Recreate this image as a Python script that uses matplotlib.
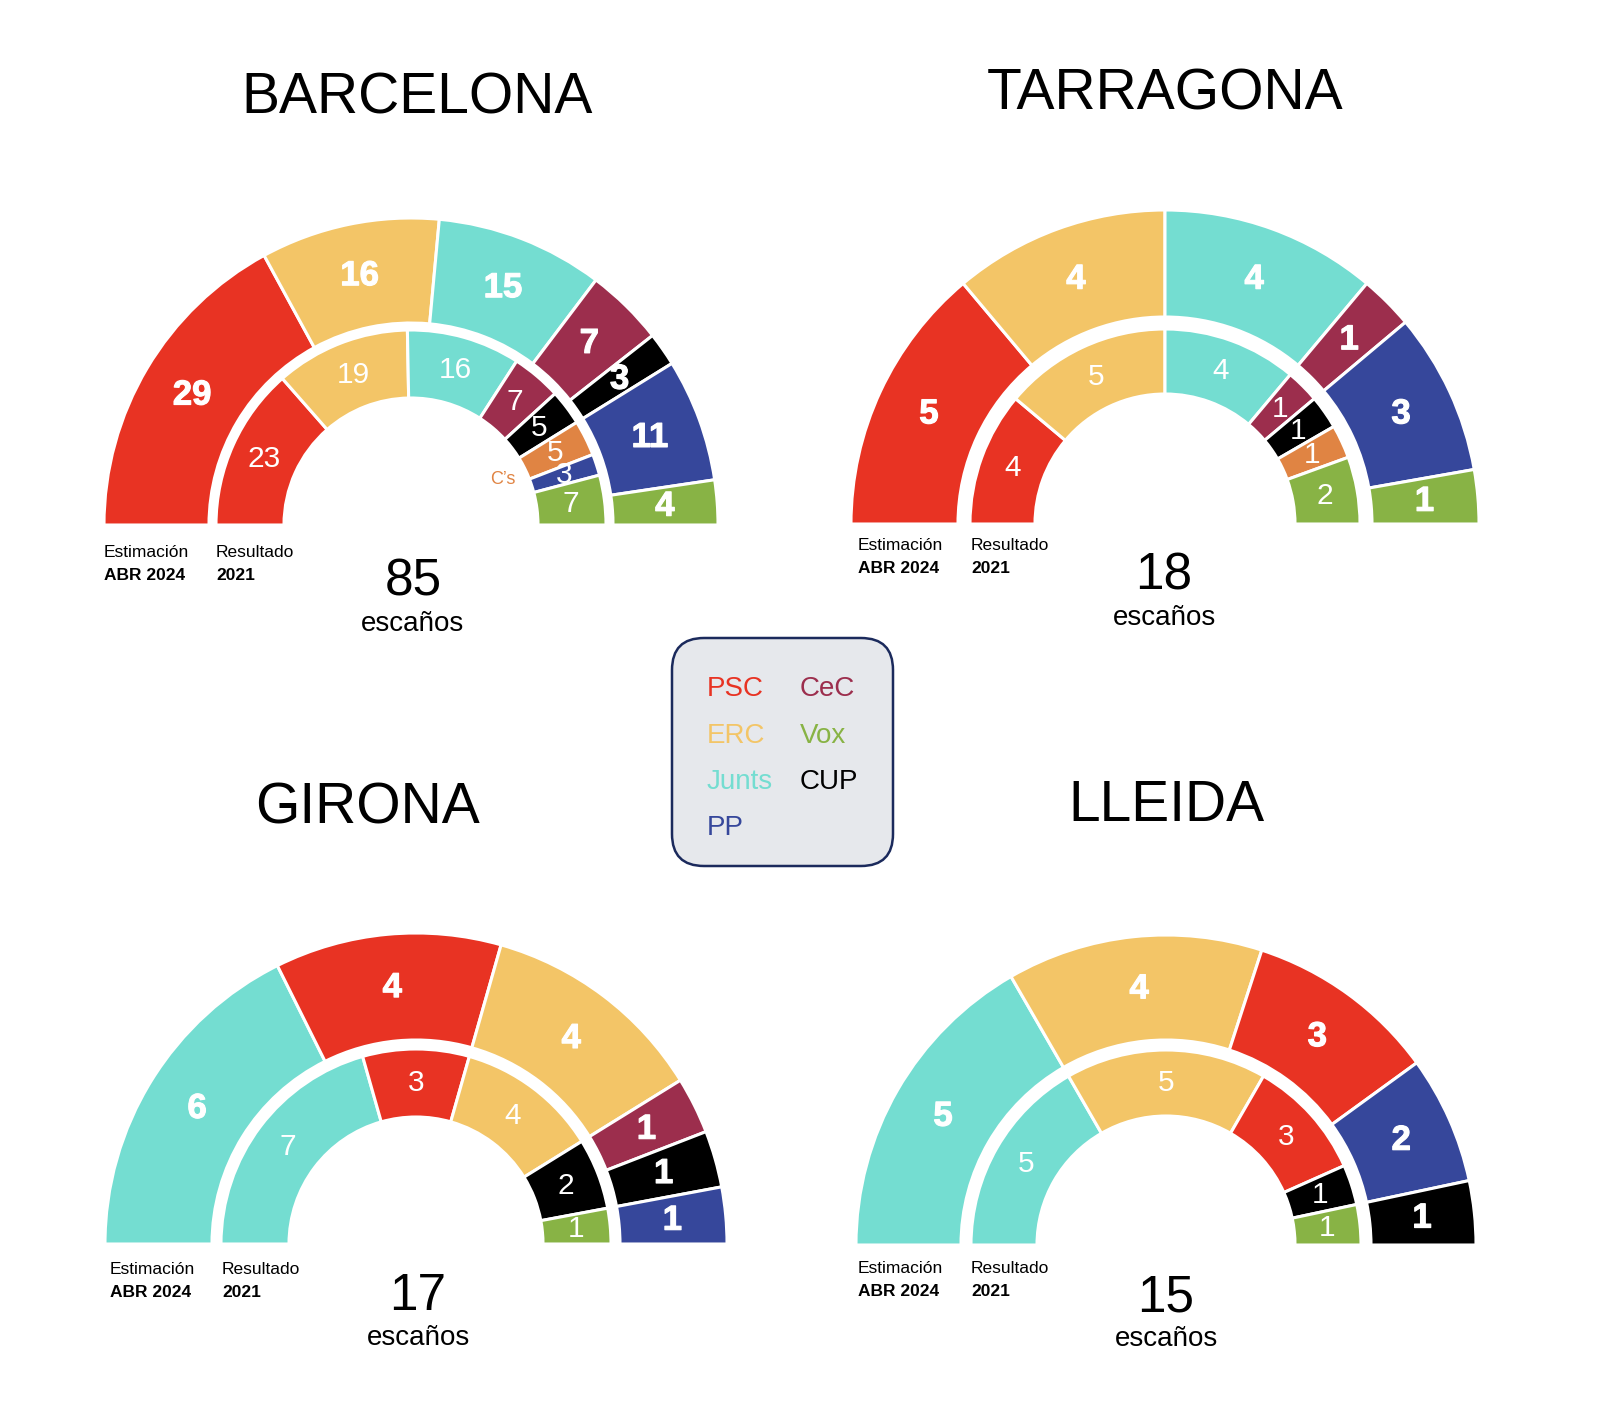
import numpy as np
import matplotlib
matplotlib.use("Agg")
import matplotlib.pyplot as plt
from matplotlib.patches import Wedge, FancyBboxPatch
import matplotlib.patheffects as pe

plt.rcParams['font.family'] = ['Liberation Sans', 'DejaVu Sans']

# party colours
party_colors = {
    'PSC': '#e83323',
    'ERC': '#f3c567',
    'Junts': '#74ddd1',
    'CeC': '#9c2e4d',
    'Vox': '#88b345',
    'CUP': '#000000',
    'PP': '#36479b',
    "C's": '#e08443',
}

# ---- data ----
districts = ['BARCELONA', 'TARRAGONA', 'GIRONA', 'LLEIDA']
total_seats = [85, 18, 17, 15]

bcn_est_parties = ['PSC', 'ERC', 'Junts', 'CeC', 'CUP', 'PP', 'Vox']
bcn_est_seats = [29, 16, 15, 7, 3, 11, 4]
bcn_res_parties = ['PSC', 'ERC', 'Junts', 'CeC', 'CUP', "C's", 'PP', 'Vox']
bcn_res_seats = [23, 19, 16, 7, 5, 5, 3, 7]

tgn_est_parties = ['PSC', 'ERC', 'Junts', 'CeC', 'PP', 'Vox']
tgn_est_seats = [5, 4, 4, 1, 3, 1]
tgn_res_parties = ['PSC', 'ERC', 'Junts', 'CeC', 'CUP', "C's", 'Vox']
tgn_res_seats = [4, 5, 4, 1, 1, 1, 2]

gir_est_parties = ['Junts', 'PSC', 'ERC', 'CeC', 'CUP', 'PP']
gir_est_seats = [6, 4, 4, 1, 1, 1]
gir_res_parties = ['Junts', 'PSC', 'ERC', 'CUP', 'Vox']
gir_res_seats = [7, 3, 4, 2, 1]

lle_est_parties = ['Junts', 'ERC', 'PSC', 'PP', 'CUP']
lle_est_seats = [5, 4, 3, 2, 1]
lle_res_parties = ['Junts', 'ERC', 'PSC', 'CUP', 'Vox']
lle_res_seats = [5, 5, 3, 1, 1]

legend_col1 = ['PSC', 'ERC', 'Junts', 'PP']
legend_col2 = ['CeC', 'Vox', 'CUP']

est_data = [(bcn_est_parties, bcn_est_seats), (tgn_est_parties, tgn_est_seats),
            (gir_est_parties, gir_est_seats), (lle_est_parties, lle_est_seats)]
res_data = [(bcn_res_parties, bcn_res_seats), (tgn_res_parties, tgn_res_seats),
            (gir_res_parties, gir_res_seats), (lle_res_parties, lle_res_seats)]

# ---- layout (pixel coords, y down) ----
centers = [(411, 525), (1165, 524), (416, 1244), (1166, 1245)]
r_outer = [307, 314, 311, 310]
r_split = [202, 207, 204, 205]
r_inner_out = [195, 195, 195, 195]
r_inner_in = [127, 130, 127, 129]
title_pos = [(417, 113), (1165, 109), (367, 823), (1166, 821)]
number_pos = [(413, 596), (1164, 590), (418, 1310), (1166, 1311)]
est_label_pos = [(104, 557), (858, 550), (110, 1274), (858, 1273)]
res_label_x = [216, 971, 222, 971]
show_cs_tag = [True, False, False, False]

fig = plt.figure(figsize=(16.02, 14.10), dpi=100)
ax = fig.add_axes([0, 0, 1, 1])
ax.set_xlim(0, 1602)
ax.set_ylim(1410, 0)
ax.set_aspect('equal')
ax.axis('off')

bold_fx = [pe.withStroke(linewidth=0.8, foreground='white')]


def draw_ring(cx, cy, r_out, width, parties, seats, total, bold, fsize):
    cum = np.concatenate([[0], np.cumsum(seats)])
    mids = []
    for i, (p, s) in enumerate(zip(parties, seats)):
        t1 = 180 + cum[i] / total * 180
        t2 = 180 + cum[i + 1] / total * 180
        ax.add_patch(Wedge((cx, cy), r_out, t1, t2, width=width,
                           facecolor=party_colors[p], edgecolor='white',
                           linewidth=2.2))
        tm = np.deg2rad((t1 + t2) / 2)
        mids.append(tm)
        rm = r_out - width / 2
        ax.text(cx + rm * np.cos(tm), cy + rm * np.sin(tm), str(s),
                ha='center', va='center', color='white', fontsize=fsize,
                fontweight='bold' if bold else 'normal',
                path_effects=bold_fx if bold else None)
    return mids


for k in range(4):
    cx, cy = centers[k]
    tot = total_seats[k]
    ep, es = est_data[k]
    rp, rs = res_data[k]
    draw_ring(cx, cy, r_outer[k], r_outer[k] - r_split[k], ep, es, tot, True, 25)
    mids = draw_ring(cx, cy, r_inner_out[k], r_inner_out[k] - r_inner_in[k],
                     rp, rs, tot, False, 21.5)
    if show_cs_tag[k] and "C's" in rp:
        tm = mids[rp.index("C's")]
        rr = r_inner_in[k] - 24
        ax.text(cx + rr * np.cos(tm), cy + rr * np.sin(tm), "C’s",
                ha='center', va='center', color=party_colors["C's"], fontsize=13)

    tx, ty = title_pos[k]
    ax.text(tx, ty, districts[k], ha='center', va='baseline', fontsize=41)

    nx, ny = number_pos[k]
    ax.text(nx, ny, str(tot), ha='center', va='baseline', fontsize=37)
    ax.text(nx, ny + 35, 'escaños', ha='center', va='baseline', fontsize=20)

    ex, ey = est_label_pos[k]
    ax.text(ex, ey, 'Estimación', ha='left', va='baseline', fontsize=12.5)
    ax.text(ex, ey + 23, 'ABR 2024', ha='left', va='baseline', fontsize=12.5,
            fontweight='bold')
    ax.text(res_label_x[k], ey, 'Resultado', ha='left', va='baseline', fontsize=12.5)
    ax.text(res_label_x[k], ey + 23, '2021', ha='left', va='baseline', fontsize=12.5,
            fontweight='bold')

# legend box
box = FancyBboxPatch((672, 638), 221, 228, boxstyle='round,pad=0,rounding_size=32',
                     facecolor='#e6e8ec', edgecolor='#1b2a5c', linewidth=1.8)
ax.add_patch(box)
row_y = [696, 743, 789, 835]
for i, p in enumerate(legend_col1):
    ax.text(707, row_y[i], p, ha='left', va='baseline', fontsize=20,
            color=party_colors[p])
for i, p in enumerate(legend_col2):
    ax.text(800, row_y[i], p, ha='left', va='baseline', fontsize=20,
            color=party_colors[p])

fig.savefig('out.png', dpi=100, facecolor='white')
